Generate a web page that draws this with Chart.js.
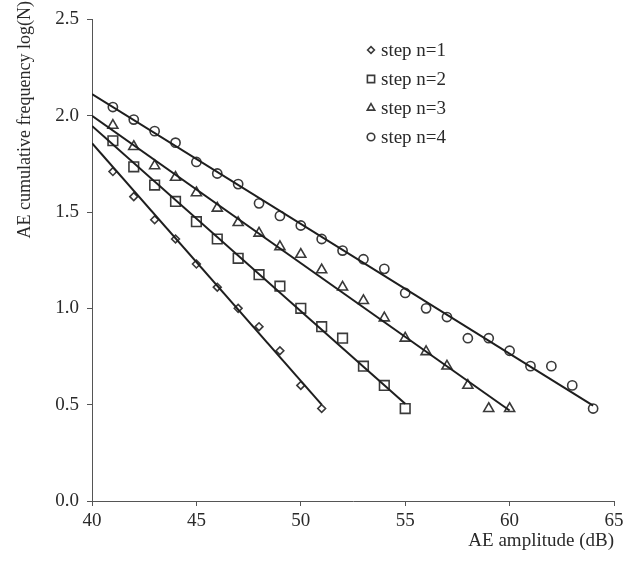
<!DOCTYPE html>
<html lang="en">
<head>
  <meta charset="UTF-8" />
  <title>AE amplitude vs cumulative frequency</title>
  <script src="https://cdn.jsdelivr.net/npm/chart.js"></script>
  <style>
    * { box-sizing: border-box; margin: 0; padding: 0; }
    body { background: #fff; }
    #wrap { width: 635px; height: 564px; position: relative; }
  </style>
</head>
<body>
  <div id="wrap"><canvas id="chart" width="635" height="564"></canvas></div>

  <script>
    // series labels
    const seriesLabels = ['step n=1', 'step n=2', 'step n=3', 'step n=4'];

    // AE amplitude (dB) for each step
    const amp1 = [41, 42, 43, 44, 45, 46, 47, 48, 49, 50, 51];
    const amp2 = [41, 42, 43, 44, 45, 46, 47, 48, 49, 50, 51, 52, 53, 54, 55];
    const amp3 = [41, 42, 43, 44, 45, 46, 47, 48, 49, 50, 51, 52, 53, 54, 55, 56, 57, 58, 59, 60];
    const amp4 = [41, 42, 43, 44, 45, 46, 47, 48, 49, 50, 51, 52, 53, 54, 55, 56, 57, 58, 59, 60, 61, 62, 63, 64];

    // log(N)
    const logN1 = [1.71, 1.58, 1.46, 1.36, 1.23, 1.11, 1.00, 0.905, 0.78, 0.60, 0.48];
    const logN2 = [1.87, 1.735, 1.64, 1.555, 1.45, 1.36, 1.26, 1.175, 1.115, 1.00, 0.905, 0.845, 0.70, 0.60, 0.48];
    const logN3 = [1.95, 1.84, 1.74, 1.68, 1.60, 1.52, 1.445, 1.39, 1.32, 1.28, 1.20, 1.11, 1.04, 0.95, 0.845, 0.775, 0.70, 0.60, 0.48, 0.48];
    const logN4 = [2.045, 1.98, 1.92, 1.86, 1.76, 1.70, 1.645, 1.545, 1.48, 1.43, 1.36, 1.30, 1.255, 1.205, 1.08, 1.00, 0.955, 0.845, 0.845, 0.78, 0.70, 0.70, 0.60, 0.48];

    // fitted lines: [amplitude, logN] at start and end
    const fitX = [[40, 51], [40, 55], [40, 60], [40, 64]];
    const fitY = [[1.857, 0.50], [1.947, 0.505], [2.00, 0.47], [2.112, 0.495]];

    // axis ticks
    const xTicks = [40, 45, 50, 55, 60, 65];
    const yTicks = [0.0, 0.5, 1.0, 1.5, 2.0, 2.5];

    const ampSets = [amp1, amp2, amp3, amp4];
    const logSets = [logN1, logN2, logN3, logN4];
    const styles = ['rectRot', 'rect', 'triangle', 'circle'];
    const radii = [3.9, 6.8, 5.8, 4.6];
    const legendRadii = [3.4, 5.1, 4.3, 3.8];
    const markColor = '#3a3a3a';
    const textColor = '#2a2a2a';
    const FONT = "'Liberation Serif', 'DejaVu Serif', serif";
    const yTitle = 'AE cumulative frequency log(N)';

    const datasets = [];
    fitX.forEach((fx, i) => {
      datasets.push({
        label: 'fit' + (i + 1),
        data: fx.map((x, j) => ({ x: x, y: fitY[i][j] })),
        showLine: true,
        borderColor: '#1e1e1e',
        borderWidth: 2,
        pointRadius: 0,
        fill: false
      });
    });
    ampSets.forEach((xs, i) => {
      datasets.push({
        label: seriesLabels[i],
        data: xs.map((x, j) => ({ x: x, y: logSets[i][j] })),
        showLine: false,
        pointStyle: styles[i],
        pointRadius: radii[i],
        pointBorderWidth: 1.6,
        pointBorderColor: markColor,
        pointBackgroundColor: 'rgba(0,0,0,0)'
      });
    });

    // legend inside the plot (top right) + y title pinned to the top
    const legendPlugin = {
      id: 'stepLegend',
      afterDraw(chart) {
        const ctx = chart.ctx;
        const a = chart.chartArea;
        const mx = a.left + 279, tx = a.left + 289;
        ctx.save();
        ctx.font = '19px ' + FONT;
        ctx.textBaseline = 'middle';
        ctx.textAlign = 'left';
        seriesLabels.forEach((lab, i) => {
          const y = 50 + i * 29;
          ctx.strokeStyle = markColor;
          ctx.fillStyle = 'rgba(0,0,0,0)';
          ctx.lineWidth = 1.6;
          Chart.helpers.drawPoint(ctx, { pointStyle: styles[i], radius: legendRadii[i], rotation: 0, borderWidth: 1.6 }, mx, y);
          ctx.fillStyle = textColor;
          ctx.fillText(lab, tx, y + 1);
        });
        ctx.restore();

        ctx.save();
        ctx.translate(25, 1);
        ctx.rotate(-Math.PI / 2);
        ctx.font = '18px ' + FONT;
        ctx.fillStyle = textColor;
        ctx.textAlign = 'right';
        ctx.textBaseline = 'middle';
        ctx.fillText(yTitle, 0, 0);
        ctx.restore();
      }
    };

    new Chart(document.getElementById('chart'), {
      type: 'scatter',
      data: { datasets: datasets },
      options: {
        responsive: false,
        animation: false,
        layout: { padding: { top: 9, right: 21, bottom: 0, left: 0 } },
        plugins: { legend: { display: false }, tooltip: { enabled: false } },
        scales: {
          x: {
            type: 'linear',
            min: xTicks[0],
            max: xTicks[xTicks.length - 1],
            afterBuildTicks: s => { s.ticks = xTicks.map(v => ({ value: v })); },
            afterFit: s => { s.height = 63; },
            grid: { display: true, drawOnChartArea: false, drawTicks: true, tickLength: 5, color: '#555' },
            border: { display: true, color: '#555', width: 1 },
            ticks: { color: textColor, padding: 4, font: { family: FONT, size: 19 }, maxRotation: 0 },
            title: {
              display: true, text: 'AE amplitude (dB)', align: 'end', color: textColor,
              font: { family: FONT, size: 19 }, padding: { top: 0, bottom: 12 }
            }
          },
          y: {
            type: 'linear',
            min: yTicks[0],
            max: yTicks[yTicks.length - 1],
            afterBuildTicks: s => { s.ticks = yTicks.map(v => ({ value: v })); },
            afterFit: s => { s.width = 92; },
            grid: { display: true, drawOnChartArea: false, drawTicks: true, tickLength: 5, color: '#555' },
            border: { display: true, color: '#555', width: 1 },
            ticks: { color: textColor, padding: 8, font: { family: FONT, size: 19 }, callback: v => v.toFixed(1) },
            title: { display: false }
          }
        }
      },
      plugins: [legendPlugin]
    });
  </script>
</body>
</html>
